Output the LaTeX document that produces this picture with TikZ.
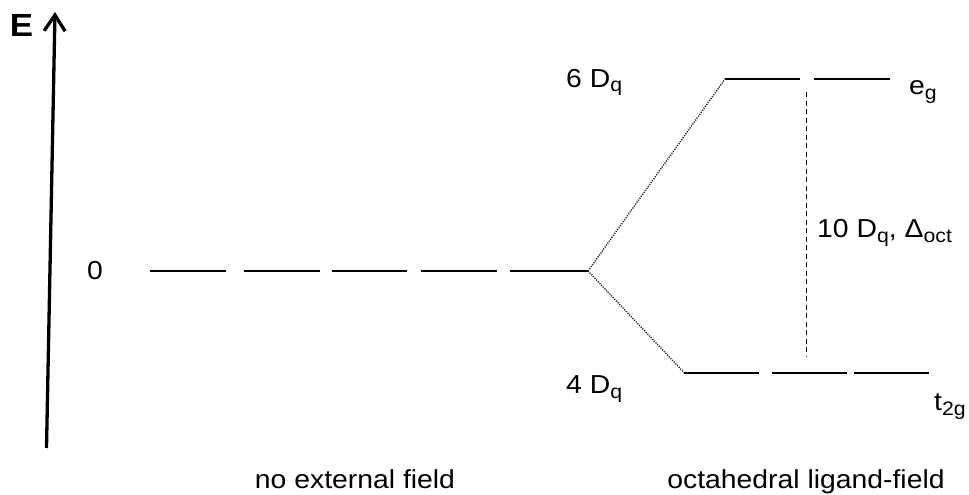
\documentclass[tikz,border=0pt]{standalone}
\usepackage{fontspec}
\setmainfont{Liberation Sans}[FakeStretch=1.09]
\usetikzlibrary{arrows.meta}
\newcommand\lsub[1]{\raisebox{-5pt}{\fontsize{19.5}{19.5}\selectfont #1}}
\tikzset{
  lbl/.style={inner sep=0pt, font=\fontsize{26}{26}\selectfont},
  level/.style={line width=2pt},
  split/.style={line width=1.4pt, black!85, dash pattern=on 1.2pt off 1.2pt},
  gap/.style={line width=1pt, dash pattern=on 5pt off 3.5pt},
}
\begin{document}
\begin{tikzpicture}[x=1pt,y=-1pt]
\useasboundingbox (0,0) rectangle (969,495);
% energy axis
\coordinate (ax0) at (46.5,448);
\coordinate (ax1) at (55,12);
\draw[line width=3.3pt, -{Straight Barb[length=16pt,width=21pt]}] (ax0) -- (ax1);
\node[inner sep=0pt, font=\fontsize{32}{32}\selectfont\bfseries] (E) at (21.5,25.5) {E};
% zero level
\node[lbl] (zero) at (95,271) {0};
\coordinate (z1a) at (150,271); \coordinate (z1b) at (226,271);
\coordinate (z2a) at (244,271); \coordinate (z2b) at (320,271);
\coordinate (z3a) at (332,271); \coordinate (z3b) at (407,271);
\coordinate (z4a) at (421,271); \coordinate (z4b) at (497,271);
\coordinate (z5a) at (510,271); \coordinate (v) at (588,271);
\draw[level] (z1a) -- (z1b) (z2a) -- (z2b) (z3a) -- (z3b) (z4a) -- (z4b) (z5a) -- (v);
% eg levels
\coordinate (e1a) at (725,79); \coordinate (e1b) at (800,79);
\coordinate (e2a) at (814,79); \coordinate (e2b) at (890,79);
\draw[level] (e1a) -- (e1b) (e2a) -- (e2b);
% t2g levels
\coordinate (t1a) at (684,372.5); \coordinate (t1b) at (759,372.5);
\coordinate (t2a) at (772,372.5); \coordinate (t2b) at (847,372.5);
\coordinate (t3a) at (854,372.5); \coordinate (t3b) at (929,372.5);
\draw[level] (t1a) -- (t1b) (t2a) -- (t2b) (t3a) -- (t3b);
% splitting lines
\draw[split] (v) -- (e1a);
\draw[split] (v) -- (t1a);
% gap
\coordinate (g1) at (806,92);
\coordinate (g2) at (806,357);
\draw[gap] (g1) -- (g2);
% labels
\node[lbl, anchor=base west] (six) at (566,87) {6 D\lsub{q}};
\node[lbl, anchor=base west] (four) at (566,393) {4 D\lsub{q}};
\node[lbl, anchor=base west] (ten) at (817,237) {10 D\lsub{q}, Δ\lsub{oct}};
\node[lbl, anchor=base west] (eg) at (909,95) {e\lsub{g}};
\node[lbl, anchor=base west] (t2g) at (934,410) {t\lsub{2g}};
\node[lbl, anchor=base] (nof) at (355,488) {no external field};
\node[lbl, anchor=base] (oct) at (806,488) {octahedral ligand-field};
\end{tikzpicture}
\end{document}
